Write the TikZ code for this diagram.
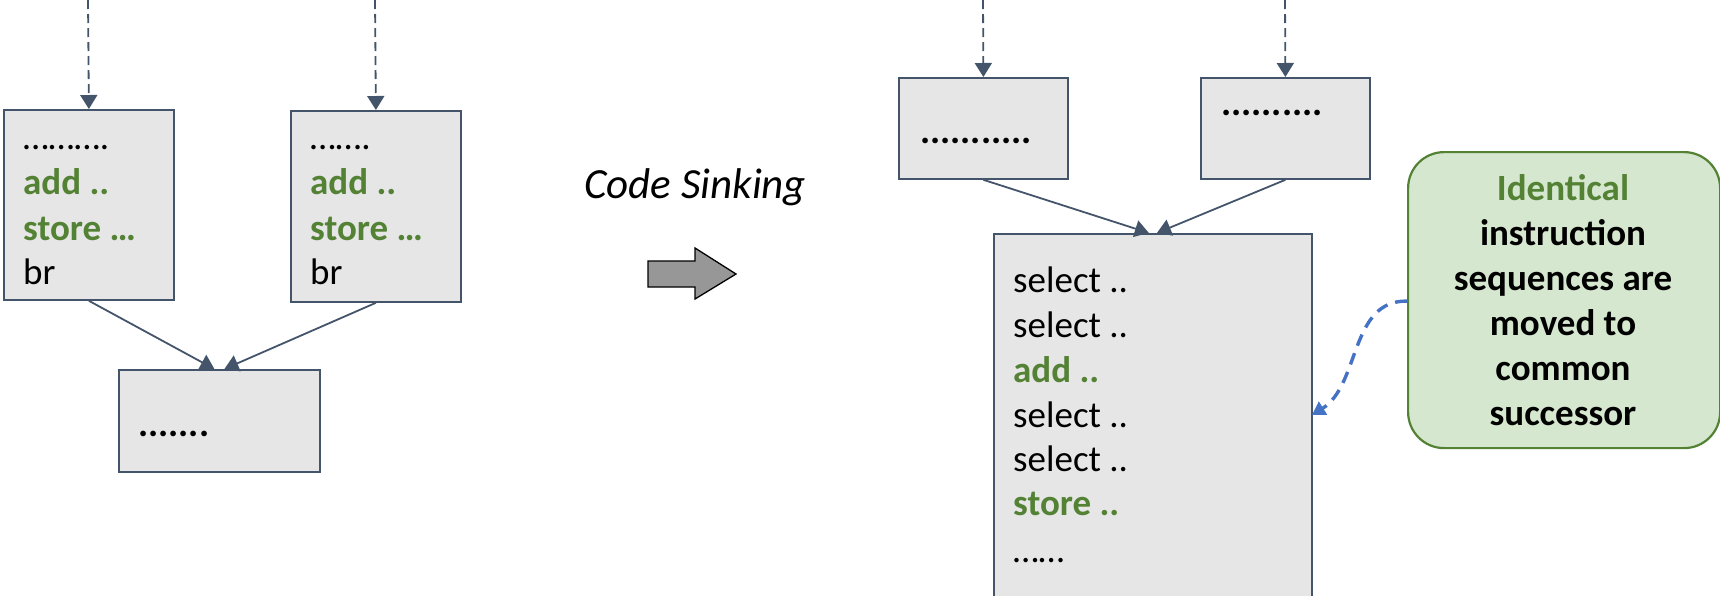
\documentclass[tikz,border=0pt]{standalone}
\usepackage{fontspec}
\setmainfont{Carlito}
\usetikzlibrary{arrows.meta}
\definecolor{boxfill}{HTML}{E6E6E6}
\definecolor{boxline}{HTML}{44546A}
\definecolor{codegreen}{HTML}{548235}
\definecolor{notefill}{HTML}{D5E7CE}
\definecolor{noteline}{HTML}{548235}
\definecolor{hintblue}{HTML}{4472C4}
\definecolor{bigarrow}{HTML}{979797}
\tikzset{
  block/.style={draw=boxline, fill=boxfill, line width=1.8pt, inner sep=0pt, anchor=north west},
  code/.style={anchor=base west, inner sep=0pt, font=\fontsize{37}{45}\selectfont},
  hot/.style={code, text=codegreen, font=\fontsize{37}{45}\selectfont\bfseries},
  filler/.style={code, font=\fontsize{38}{45}\selectfont\bfseries},
  flow/.style={draw=boxline, line width=1.8pt, -{Triangle[length=14pt,width=17pt]}},
  entry/.style={flow, dash pattern=on 9pt off 5pt},
  hint/.style={draw=hintblue, line width=3.4pt, dash pattern=on 12pt off 8pt,
    -{Triangle[length=13pt,width=15pt]}},
}
\begin{document}
\begin{tikzpicture}[x=1pt,y=-1pt]
\useasboundingbox (0,0) rectangle (1720,595);

% ---- before: two predecessors and their successor ----
\node[block, minimum width=170pt, minimum height=190pt] (A) at (3,109) {};
\node[block, minimum width=170pt, minimum height=191pt] (B) at (290,110) {};
\node[block, minimum width=201pt, minimum height=102pt] (C) at (118,369) {};

\node[code] (a1) at (23,149) {……….};
\node[hot]  (a2) at (23,194) {add ..};
\node[hot]  (a3) at (23,240) {store …};
\node[code] (a4) at (23,284) {br};

\node[code] (b1) at (310,149) {…….};
\node[hot]  (b2) at (310,194) {add ..};
\node[hot]  (b3) at (310,240) {store …};
\node[code] (b4) at (310,284) {br};

\node[filler] (c1) at (138,436) {.......};

\coordinate (inA) at (88,0);
\coordinate (inB) at (375,0);
\draw[entry] (inA) -- (A.north);
\draw[entry] (inB) -- (B.north);
\draw[flow] (A.south) -- ([xshift=-5pt]C.north);
\draw[flow] (B.south) -- ([xshift=5pt]C.north);

% ---- transformation ----
\node[anchor=base west, inner sep=0pt, font=\fontsize{43}{50}\selectfont\itshape] (title) at (584,198) {Code Sinking};
\draw[draw=black, line width=1.3pt, fill=bigarrow]
  (648,261) -- (695,261) -- (695,248) -- (736,274) -- (695,299) -- (695,287) -- (648,287) -- cycle;

% ---- after: merged successor ----
\node[block, minimum width=169pt, minimum height=101pt] (D) at (898,77) {};
\node[block, minimum width=169pt, minimum height=101pt] (E) at (1200,77) {};
\node[block, minimum width=318pt, minimum height=380pt] (F) at (993,233) {};

\node[filler] (d1) at (920,143) {...........};
\node[filler] (e1) at (1221,115) {..........};

\node[code] (f1) at (1013,292) {select ..};
\node[code] (f2) at (1013,337) {select ..};
\node[hot]  (f3) at (1013,382) {add ..};
\node[code] (f4) at (1013,427) {select ..};
\node[code] (f5) at (1013,471) {select ..};
\node[hot]  (f6) at (1013,515) {store ..};
\node[code] (f7) at (1013,562) {……};

\coordinate (inD) at (983,0);
\coordinate (inE) at (1285,0);
\draw[entry] (inD) -- (D.north);
\draw[entry] (inE) -- (E.north);
\draw[flow] (D.south) -- ([xshift=-4pt]F.north);
\draw[flow] (E.south) -- ([xshift=4pt]F.north);

% ---- note ----
\node[draw=noteline, fill=notefill, line width=2.2pt, rounded corners=36pt,
      minimum width=312pt, minimum height=296pt, anchor=north west, inner sep=0pt] (G) at (1407,151) {};
\node[anchor=north, inner sep=0pt, align=center, font=\fontsize{37}{45}\selectfont\bfseries] (gtext) at (1563,174)
  {\textcolor{codegreen}{Identical}\\instruction\\sequences are\\moved to\\common\\successor};

\coordinate (hintend) at (1312,415);
\draw[hint] ([yshift=-1pt]G.west) .. controls (1350,300) and (1360,385) .. (hintend);
\end{tikzpicture}
\end{document}
